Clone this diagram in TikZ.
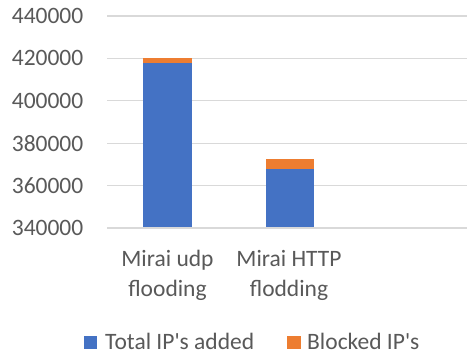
\documentclass[tikz,border=0pt]{standalone}
\usepackage{fontspec}
\setmainfont{Carlito}[Ligatures=TeXOff]
\definecolor{barblue}{HTML}{4472C4}
\definecolor{barorange}{HTML}{ED7D31}
\definecolor{gridgray}{HTML}{D9D9D9}
\definecolor{txtgray}{HTML}{595959}
\begin{document}
\begin{tikzpicture}[x=1pt,y=-1pt,
  gridline/.style={draw=gridgray,line width=1.3pt},
  ticklabel/.style={anchor=east,inner sep=0pt,text=txtgray,font=\fontsize{23.5}{28}\selectfont},
  catlabel/.style={align=center,inner sep=0pt,text=txtgray,font=\fontsize{23.5}{29.5}\selectfont},
  legtext/.style={anchor=west,inner sep=0pt,text=txtgray,font=\fontsize{23.5}{28}\selectfont},
  legbox/.style={minimum width=13.5pt,minimum height=13.5pt,inner sep=0pt}]
\useasboundingbox[fill=white] (0,0) rectangle (467,354);
% gridlines and tick labels
\foreach \v/\y in {440000/16,420000/58.4,400000/100.8,380000/143.2,360000/185.6,340000/228}{
  \draw[gridline] (107,\y) -- (467,\y);
  \node[ticklabel] (t\v) at (83.5,\y) {\v};
}
% bar 1
\fill[barblue] (143,228) rectangle (192,63.3);
\fill[barorange] (143,63.3) rectangle (192,57.7);
% bar 2
\fill[barblue] (266,228) rectangle (314,169.3);
\fill[barorange] (266,169.3) rectangle (314,159.3);
\draw[gridline] (107,228) -- (467,228);
% category labels
\node[catlabel] (c1) at (167.5,275.5) {Mirai udp\\flooding};
\node[catlabel] (c2) at (289,275.5) {Mirai HTTP\\flodding};
% legend
\node[legbox,fill=barblue] (lb1) at (90.5,342.5) {};
\node[legtext] (lt1) at (105,341) {Total IP's added};
\node[legbox,fill=barorange] (lb2) at (294,342.5) {};
\node[legtext] (lt2) at (307,341) {Blocked IP's};
\end{tikzpicture}
\end{document}
